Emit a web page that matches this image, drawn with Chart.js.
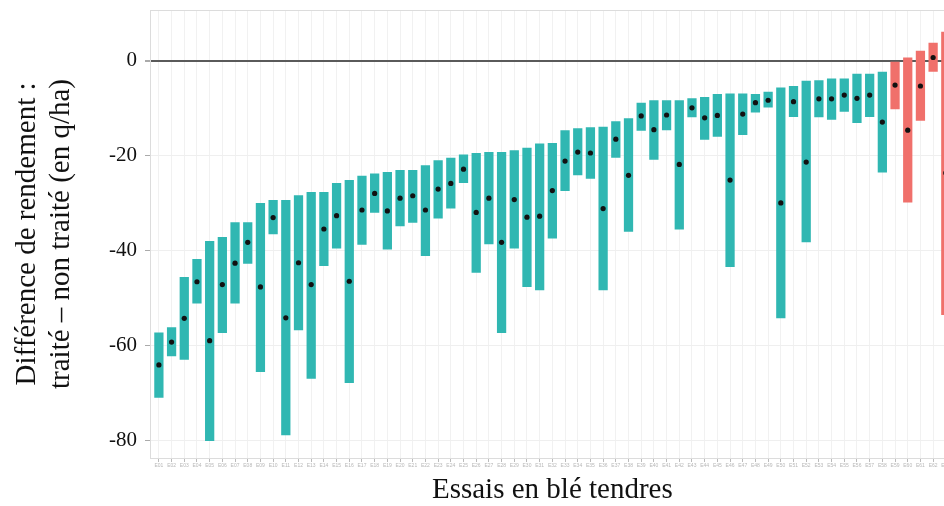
<!DOCTYPE html>
<html>
<head>
<meta charset="utf-8">
<script src="https://cdn.jsdelivr.net/npm/chart.js@4.4.1/dist/chart.umd.min.js"></script>
<style>
  html, body { margin: 0; padding: 0; overflow: hidden; background: #fff; }
  #wrap { width: 960px; height: 506px; }
</style>
</head>
<body>
<div id="wrap"><canvas id="chart"></canvas></div>
<script>
// essais (etiquettes illisibles sur l'original)
var essais = ['E01','E02','E03','E04','E05','E06','E07','E08','E09','E10',
  'E11','E12','E13','E14','E15','E16','E17','E18','E19','E20',
  'E21','E22','E23','E24','E25','E26','E27','E28','E29','E30',
  'E31','E32','E33','E34','E35','E36','E37','E38','E39','E40',
  'E41','E42','E43','E44','E45','E46','E47','E48','E49','E50',
  'E51','E52','E53','E54','E55','E56','E57','E58','E59','E60',
  'E61','E62','E63'];
var essaisRouges = ['E59','E60','E61','E62','E63'];

// bas et haut de chaque barre, et point moyen (q/ha)
var ecartMin = [-70.9,-62.2,-62.9,-51.1,-80.0,-57.3,-51.1,-42.7,-65.5,-36.5,
  -78.8,-56.7,-66.9,-43.2,-39.5,-67.8,-38.7,-32.0,-39.7,-34.8,
  -34.1,-41.1,-33.2,-31.1,-25.7,-44.6,-38.6,-57.3,-39.5,-47.6,
  -48.3,-37.4,-27.4,-24.1,-24.8,-48.3,-20.4,-36.0,-14.7,-20.8,
  -14.6,-35.5,-11.9,-16.6,-16.0,-43.4,-15.6,-10.9,-9.8,-54.2,
  -11.8,-38.2,-11.9,-12.4,-10.7,-13.1,-11.8,-23.5,-10.2,-29.8,
  -12.6,-2.3,-53.5];
var ecartMax = [-57.2,-56.1,-45.5,-41.7,-37.9,-37.1,-34.0,-34.0,-29.9,-29.3,
  -29.3,-28.3,-27.6,-27.6,-25.7,-25.1,-24.2,-23.7,-23.4,-23.0,
  -23.0,-22.0,-20.9,-20.4,-19.7,-19.4,-19.2,-19.2,-18.8,-18.3,
  -17.4,-17.3,-14.6,-14.2,-14.0,-13.9,-12.7,-12.1,-8.8,-8.3,
  -8.3,-8.3,-7.9,-7.6,-7.0,-6.9,-6.9,-7.0,-6.5,-5.6,
  -5.3,-4.2,-4.1,-3.7,-3.7,-2.7,-2.7,-2.3,0.0,0.7,
  2.1,3.8,6.1];
var ecartMoyen = [-64.0,-59.2,-54.2,-46.5,-58.9,-47.1,-42.6,-38.2,-47.6,-33.0,
  -54.1,-42.5,-47.1,-35.4,-32.6,-46.4,-31.4,-27.9,-31.6,-28.9,
  -28.4,-31.4,-27.0,-25.8,-22.8,-31.9,-28.9,-38.2,-29.2,-32.9,
  -32.7,-27.3,-21.1,-19.2,-19.4,-31.1,-16.5,-24.1,-11.6,-14.5,
  -11.4,-21.8,-9.9,-12.0,-11.5,-25.1,-11.2,-8.8,-8.3,-29.9,
  -8.6,-21.3,-8.0,-8.0,-7.2,-7.9,-7.2,-12.9,-5.1,-14.6,
  -5.3,0.7,-23.6];
var yTicks = [0, -20, -40, -60, -80];

var teal = '#30b7b2', rouge = '#f0706b';

var barres = essais.map(function(e, i) {
  return { x: i + 1, y: [ecartMin[i], ecartMax[i]] };
});
var points = essais.map(function(e, i) {
  return { x: i + 1, y: ecartMoyen[i] };
});
var couleurs = essais.map(function(e) {
  return essaisRouges.indexOf(e) >= 0 ? rouge : teal;
});

var cadre = {
  id: 'cadre',
  beforeDatasetsDraw: function(chart) {
    var a = chart.chartArea, ctx = chart.ctx;
    ctx.save();
    ctx.strokeStyle = '#dcdcdc';
    ctx.lineWidth = 1;
    ctx.strokeRect(a.left + 0.5, a.top + 0.5, a.right - a.left, a.bottom - a.top);
    ctx.restore();
  }
};

var serif = '"Liberation Serif", "Times New Roman", serif';

new Chart(document.getElementById('chart').getContext('2d'), {
  type: 'bar',
  data: {
    datasets: [{
      type: 'scatter',
      data: points,
      order: 0,
      pointRadius: 2.6,
      pointBackgroundColor: '#111',
      pointBorderWidth: 0,
      showLine: false
    }, {
      type: 'bar',
      data: barres,
      order: 1,
      backgroundColor: couleurs,
      borderWidth: 0,
      barPercentage: 0.73,
      categoryPercentage: 1
    }]
  },
  plugins: [cadre],
  options: {
    responsive: true,
    maintainAspectRatio: false,
    animation: false,
    layout: { padding: { top: 10, right: 5.3, bottom: 0, left: 0 } },
    plugins: { legend: { display: false }, tooltip: { enabled: false } },
    scales: {
      x: {
        type: 'linear',
        offset: false,
        min: 0.3,
        max: 63.7,
        afterFit: function(s) {
          s.height = 48;
          s.paddingLeft = 0;
          s.paddingRight = 0;
        },
        ticks: {
          stepSize: 1,
          includeBounds: false,
          autoSkip: false,
          maxRotation: 0,
          padding: 1,
          color: '#b8b8b8',
          font: { size: 5 },
          callback: function(v) { return essais[v - 1] || ''; }
        },
        grid: { offset: false, color: '#f1f1f1', tickColor: '#bbb', tickLength: 4 },
        border: { display: false },
        title: {
          display: true,
          text: 'Essais en blé tendres',
          color: '#111',
          font: { family: serif, size: 29, lineHeight: 1.05 },
          padding: { top: 0, bottom: 0 }
        }
      },
      y: {
        min: -83.6,
        max: 10.7,
        afterFit: function(s) {
          s.width = 150;
          s.paddingTop = 0;
          s.paddingBottom = 0;
        },
        afterBuildTicks: function(s) {
          s.ticks = yTicks.map(function(v) { return { value: v }; });
        },
        ticks: {
          color: '#111',
          padding: 8,
          font: { family: serif, size: 21 }
        },
        grid: {
          color: function(c) { return c.tick && c.tick.value === 0 ? '#5a5a5a' : '#efefef'; },
          lineWidth: function(c) { return c.tick && c.tick.value === 0 ? 2 : 1; },
          tickColor: '#aaa',
          tickLength: 5
        },
        border: { display: false },
        title: {
          display: true,
          text: ['Différence de rendement :', 'traité – non traité (en q/ha)'],
          color: '#111',
          font: { family: serif, size: 29, lineHeight: 1.2 },
          padding: { top: 9.6, bottom: 0 }
        }
      }
    }
  }
});
</script>
</body>
</html>
